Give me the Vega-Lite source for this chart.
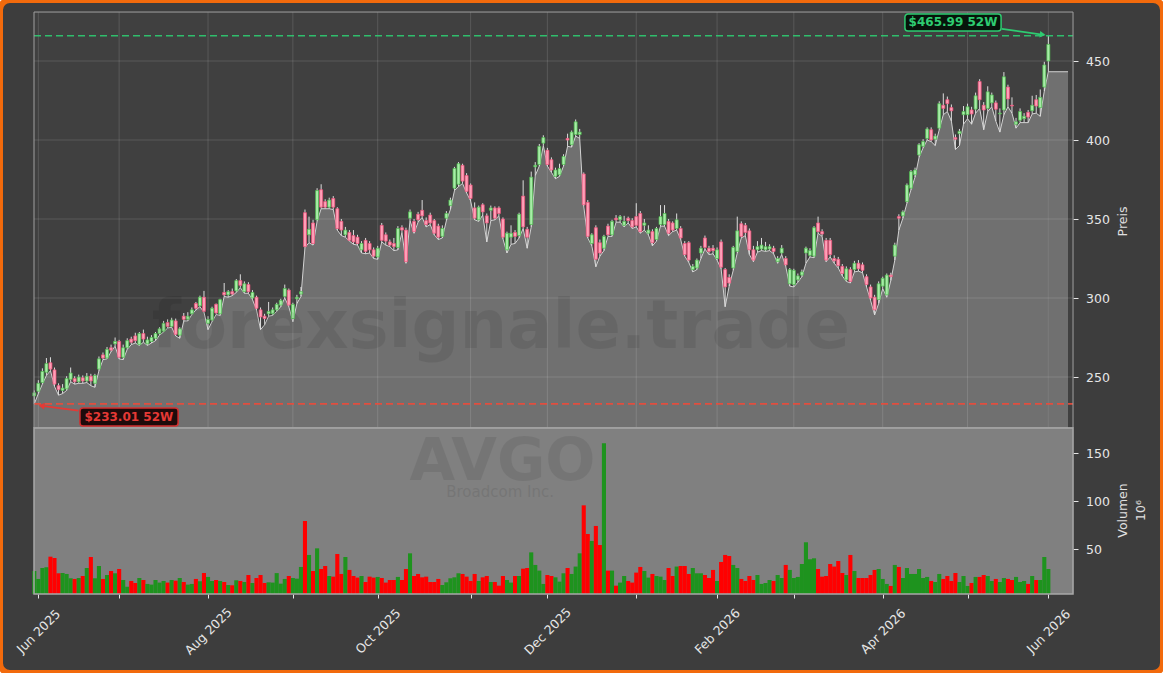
{
"$schema": "https://vega.github.io/schema/vega-lite/v6.json",
"width": 1163, "height": 673, "autosize": "none", "padding": 0,
"background": "#ffffff",
"config": {"font": "DejaVu Sans", "view": {"fill": "#3d3d3d", "stroke": "#f26a0c", "strokeWidth": 6, "cornerRadius": 10}},
"data": {"values": [
{"o":238.0,"h":241.5,"l":233.01,"c":240.0,"v":27.1},
{"o":241.0,"h":248.0,"l":239.5,"c":246.0,"v":18.8},
{"o":246.5,"h":255.5,"l":245.5,"c":253.5,"v":30.2},
{"o":253.0,"h":262.0,"l":251.0,"c":258.5,"v":31.0},
{"o":259.0,"h":262.5,"l":254.0,"c":255.0,"v":42.0},
{"o":254.5,"h":256.0,"l":244.0,"c":245.5,"v":40.6},
{"o":244.5,"h":246.0,"l":238.5,"c":242.0,"v":24.7},
{"o":241.5,"h":245.5,"l":239.5,"c":243.0,"v":25.0},
{"o":242.5,"h":250.5,"l":241.5,"c":249.0,"v":24.0},
{"o":248.5,"h":256.0,"l":247.0,"c":252.5,"v":19.5},
{"o":249.0,"h":250.5,"l":245.5,"c":247.0,"v":18.8},
{"o":247.0,"h":251.5,"l":246.0,"c":250.0,"v":19.8},
{"o":249.5,"h":251.0,"l":246.0,"c":247.5,"v":21.9},
{"o":247.5,"h":252.5,"l":246.5,"c":250.5,"v":30.2},
{"o":250.5,"h":252.0,"l":244.5,"c":247.5,"v":41.7},
{"o":246.0,"h":252.0,"l":243.5,"c":251.0,"v":19.5},
{"o":255.0,"h":263.0,"l":254.0,"c":261.5,"v":32.3},
{"o":264.0,"h":265.5,"l":261.0,"c":262.0,"v":18.8},
{"o":262.0,"h":269.0,"l":261.5,"c":267.5,"v":22.9},
{"o":268.5,"h":270.5,"l":266.0,"c":267.0,"v":27.1},
{"o":271.0,"h":275.0,"l":269.5,"c":272.5,"v":24.7},
{"o":272.5,"h":273.5,"l":261.5,"c":262.5,"v":29.2},
{"o":262.5,"h":270.5,"l":261.0,"c":268.5,"v":17.7},
{"o":268.5,"h":274.5,"l":267.5,"c":273.0,"v":10.8},
{"o":274.0,"h":275.5,"l":270.5,"c":272.0,"v":16.7},
{"o":276.0,"h":278.0,"l":271.5,"c":273.0,"v":14.6},
{"o":270.5,"h":278.5,"l":270.0,"c":277.5,"v":19.8},
{"o":277.5,"h":280.0,"l":272.0,"c":274.0,"v":17.7},
{"o":271.0,"h":275.5,"l":270.0,"c":273.5,"v":13.6},
{"o":272.5,"h":276.5,"l":271.5,"c":275.0,"v":12.9},
{"o":274.5,"h":278.5,"l":273.0,"c":277.5,"v":17.7},
{"o":277.5,"h":281.5,"l":276.5,"c":280.5,"v":15.0},
{"o":279.0,"h":285.5,"l":278.5,"c":284.0,"v":16.7},
{"o":284.5,"h":286.5,"l":281.0,"c":282.0,"v":15.0},
{"o":282.0,"h":287.5,"l":281.5,"c":286.0,"v":17.7},
{"o":285.5,"h":287.0,"l":276.0,"c":277.0,"v":17.0},
{"o":276.5,"h":281.5,"l":274.5,"c":280.5,"v":19.8},
{"o":288.5,"h":290.5,"l":285.5,"c":286.5,"v":15.6},
{"o":286.5,"h":291.0,"l":285.5,"c":288.5,"v":12.9},
{"o":290.0,"h":294.0,"l":289.5,"c":292.5,"v":13.6},
{"o":296.5,"h":297.5,"l":292.5,"c":293.5,"v":18.8},
{"o":295.0,"h":301.5,"l":294.5,"c":300.5,"v":16.4},
{"o":300.5,"h":304.5,"l":291.0,"c":291.5,"v":25.0},
{"o":284.0,"h":288.5,"l":280.0,"c":286.5,"v":20.9},
{"o":286.0,"h":294.5,"l":285.0,"c":293.5,"v":16.7},
{"o":296.0,"h":296.5,"l":289.5,"c":290.5,"v":17.7},
{"o":290.0,"h":299.5,"l":289.0,"c":299.0,"v":16.7},
{"o":303.5,"h":309.5,"l":301.0,"c":302.0,"v":15.6},
{"o":302.0,"h":305.0,"l":300.5,"c":304.0,"v":12.5},
{"o":304.0,"h":306.0,"l":301.5,"c":302.5,"v":12.2},
{"o":304.5,"h":312.0,"l":303.5,"c":311.0,"v":17.4},
{"o":311.0,"h":315.0,"l":306.5,"c":308.0,"v":16.7},
{"o":304.0,"h":310.5,"l":303.0,"c":309.0,"v":15.6},
{"o":308.5,"h":310.0,"l":303.0,"c":304.0,"v":22.9},
{"o":300.0,"h":305.0,"l":299.0,"c":303.5,"v":14.6},
{"o":300.5,"h":301.5,"l":292.5,"c":293.5,"v":19.8},
{"o":292.5,"h":294.0,"l":280.0,"c":288.0,"v":22.9},
{"o":288.5,"h":290.0,"l":283.0,"c":287.0,"v":14.6},
{"o":290.0,"h":297.5,"l":288.5,"c":291.5,"v":15.3},
{"o":290.0,"h":294.0,"l":289.0,"c":292.5,"v":15.0},
{"o":292.5,"h":297.0,"l":291.5,"c":296.0,"v":24.9},
{"o":295.5,"h":299.5,"l":294.5,"c":298.5,"v":13.9},
{"o":301.0,"h":308.5,"l":300.0,"c":306.0,"v":18.8},
{"o":305.0,"h":306.0,"l":294.5,"c":295.5,"v":21.9},
{"o":287.0,"h":297.0,"l":285.0,"c":296.0,"v":19.8},
{"o":299.5,"h":302.0,"l":296.5,"c":300.5,"v":19.1},
{"o":302.5,"h":307.0,"l":301.0,"c":304.0,"v":31.3},
{"o":354.0,"h":356.0,"l":332.0,"c":332.5,"v":79.2},
{"o":340.0,"h":351.5,"l":335.0,"c":343.5,"v":43.8},
{"o":347.5,"h":349.5,"l":333.5,"c":334.5,"v":27.1},
{"o":349.5,"h":369.5,"l":348.5,"c":368.0,"v":50.7},
{"o":368.5,"h":372.0,"l":356.5,"c":357.5,"v":29.2},
{"o":361.0,"h":362.5,"l":356.5,"c":357.5,"v":32.3},
{"o":357.5,"h":363.5,"l":356.5,"c":362.0,"v":21.9},
{"o":363.0,"h":364.5,"l":356.0,"c":357.5,"v":21.2},
{"o":356.5,"h":357.5,"l":343.0,"c":344.0,"v":44.8},
{"o":348.5,"h":350.0,"l":339.5,"c":343.0,"v":24.0},
{"o":340.0,"h":345.0,"l":338.5,"c":343.0,"v":41.7},
{"o":341.5,"h":343.0,"l":336.0,"c":336.5,"v":28.2},
{"o":339.5,"h":343.0,"l":334.0,"c":335.5,"v":21.9},
{"o":338.5,"h":340.0,"l":333.5,"c":334.5,"v":20.2},
{"o":330.5,"h":336.0,"l":328.5,"c":334.5,"v":21.9},
{"o":336.5,"h":338.0,"l":328.0,"c":329.5,"v":15.6},
{"o":334.5,"h":336.0,"l":328.5,"c":330.5,"v":21.2},
{"o":330.5,"h":332.0,"l":325.0,"c":326.5,"v":20.2},
{"o":326.0,"h":333.0,"l":324.5,"c":331.5,"v":20.9},
{"o":346.0,"h":347.5,"l":335.5,"c":336.5,"v":19.8},
{"o":340.0,"h":341.5,"l":333.5,"c":336.0,"v":15.0},
{"o":335.5,"h":337.0,"l":332.5,"c":333.5,"v":17.7},
{"o":334.5,"h":338.0,"l":330.0,"c":332.5,"v":17.7},
{"o":332.0,"h":345.5,"l":330.5,"c":344.0,"v":20.9},
{"o":344.5,"h":346.0,"l":341.5,"c":343.0,"v":17.7},
{"o":343.0,"h":344.5,"l":322.0,"c":323.0,"v":29.2},
{"o":350.5,"h":356.0,"l":349.0,"c":354.5,"v":45.5},
{"o":348.5,"h":350.0,"l":341.0,"c":342.0,"v":21.9},
{"o":353.0,"h":354.5,"l":348.0,"c":349.5,"v":24.0},
{"o":355.5,"h":362.0,"l":351.0,"c":352.0,"v":20.5},
{"o":349.0,"h":351.0,"l":345.0,"c":346.5,"v":21.2},
{"o":352.5,"h":354.0,"l":346.5,"c":347.5,"v":15.6},
{"o":349.0,"h":350.0,"l":340.0,"c":341.0,"v":15.6},
{"o":345.5,"h":347.0,"l":337.0,"c":338.5,"v":18.8},
{"o":339.0,"h":346.0,"l":338.0,"c":344.0,"v":12.5},
{"o":350.5,"h":355.0,"l":349.0,"c":353.5,"v":15.3},
{"o":358.5,"h":363.5,"l":356.0,"c":362.0,"v":19.5},
{"o":369.5,"h":383.0,"l":368.0,"c":382.0,"v":20.5},
{"o":372.0,"h":386.0,"l":370.5,"c":385.0,"v":24.7},
{"o":384.0,"h":385.0,"l":372.5,"c":374.0,"v":24.0},
{"o":377.5,"h":379.0,"l":366.5,"c":367.5,"v":21.2},
{"o":371.5,"h":372.5,"l":361.5,"c":363.0,"v":16.7},
{"o":357.0,"h":360.5,"l":349.5,"c":350.5,"v":24.0},
{"o":349.5,"h":358.5,"l":348.5,"c":357.5,"v":16.7},
{"o":359.0,"h":360.0,"l":352.5,"c":354.5,"v":20.5},
{"o":352.0,"h":353.5,"l":335.5,"c":347.5,"v":21.9},
{"o":355.5,"h":358.5,"l":349.0,"c":357.0,"v":15.6},
{"o":357.0,"h":358.0,"l":349.5,"c":350.5,"v":15.6},
{"o":357.0,"h":358.0,"l":352.0,"c":353.5,"v":11.8},
{"o":350.0,"h":351.0,"l":337.5,"c":338.5,"v":21.9},
{"o":330.5,"h":342.0,"l":328.5,"c":341.0,"v":17.7},
{"o":338.5,"h":346.0,"l":334.0,"c":341.0,"v":15.0},
{"o":341.5,"h":343.0,"l":334.5,"c":339.0,"v":21.9},
{"o":339.5,"h":354.0,"l":338.0,"c":353.0,"v":21.9},
{"o":364.5,"h":374.5,"l":344.0,"c":345.0,"v":29.5},
{"o":343.5,"h":345.0,"l":331.5,"c":338.5,"v":30.2},
{"o":346.5,"h":380.0,"l":345.0,"c":376.5,"v":46.5},
{"o":383.0,"h":386.0,"l":377.5,"c":384.0,"v":33.4},
{"o":384.5,"h":397.5,"l":383.5,"c":396.0,"v":27.5},
{"o":398.0,"h":403.0,"l":396.5,"c":401.5,"v":13.6},
{"o":393.5,"h":395.0,"l":383.5,"c":384.5,"v":22.9},
{"o":387.5,"h":389.0,"l":379.5,"c":381.0,"v":21.9},
{"o":377.0,"h":382.5,"l":375.5,"c":381.0,"v":20.5},
{"o":378.0,"h":385.0,"l":377.0,"c":382.0,"v":16.0},
{"o":384.5,"h":391.0,"l":383.5,"c":389.5,"v":24.7},
{"o":401.0,"h":404.0,"l":396.0,"c":400.0,"v":30.2},
{"o":397.0,"h":406.0,"l":395.5,"c":405.0,"v":24.0},
{"o":403.5,"h":413.0,"l":402.5,"c":411.5,"v":31.7},
{"o":403.5,"h":407.0,"l":401.0,"c":405.0,"v":45.5},
{"o":378.5,"h":379.5,"l":358.0,"c":359.0,"v":95.5},
{"o":360.5,"h":362.0,"l":338.0,"c":339.0,"v":65.6},
{"o":334.5,"h":341.0,"l":333.0,"c":340.0,"v":58.4},
{"o":344.5,"h":346.0,"l":319.8,"c":324.5,"v":74.0},
{"o":335.0,"h":337.0,"l":326.5,"c":328.5,"v":54.2},
{"o":331.5,"h":340.0,"l":330.0,"c":339.0,"v":160.1},
{"o":345.5,"h":347.0,"l":339.0,"c":340.0,"v":27.5},
{"o":340.0,"h":349.5,"l":339.0,"c":348.5,"v":27.5},
{"o":350.5,"h":352.5,"l":348.0,"c":349.5,"v":11.8},
{"o":349.5,"h":352.5,"l":348.0,"c":351.5,"v":15.0},
{"o":346.0,"h":352.0,"l":345.0,"c":348.5,"v":21.9},
{"o":350.5,"h":351.5,"l":347.5,"c":349.0,"v":16.7},
{"o":349.0,"h":350.5,"l":344.0,"c":345.0,"v":15.0},
{"o":351.5,"h":360.0,"l":345.0,"c":346.0,"v":25.4},
{"o":353.5,"h":355.0,"l":341.0,"c":342.0,"v":31.3},
{"o":346.0,"h":350.0,"l":343.0,"c":347.5,"v":27.1},
{"o":341.0,"h":346.0,"l":340.0,"c":343.0,"v":20.2},
{"o":342.0,"h":343.5,"l":333.0,"c":335.0,"v":24.0},
{"o":337.0,"h":345.0,"l":336.0,"c":344.0,"v":21.9},
{"o":346.5,"h":358.8,"l":345.5,"c":351.5,"v":21.2},
{"o":346.5,"h":358.8,"l":345.5,"c":353.5,"v":17.7},
{"o":348.5,"h":350.0,"l":339.5,"c":341.0,"v":30.2},
{"o":347.5,"h":348.5,"l":342.0,"c":343.0,"v":21.9},
{"o":344.0,"h":353.5,"l":343.0,"c":349.5,"v":31.7},
{"o":344.0,"h":345.5,"l":337.0,"c":338.0,"v":32.3},
{"o":334.5,"h":336.0,"l":326.5,"c":327.5,"v":32.3},
{"o":335.0,"h":336.0,"l":322.5,"c":324.0,"v":24.0},
{"o":318.0,"h":321.5,"l":316.5,"c":320.0,"v":30.2},
{"o":319.0,"h":325.0,"l":318.0,"c":324.0,"v":24.7},
{"o":328.5,"h":333.0,"l":325.0,"c":331.5,"v":24.7},
{"o":338.0,"h":339.5,"l":331.0,"c":332.0,"v":22.9},
{"o":331.5,"h":333.0,"l":327.5,"c":329.5,"v":19.8},
{"o":331.5,"h":333.5,"l":328.0,"c":330.0,"v":28.2},
{"o":325.0,"h":332.0,"l":324.0,"c":330.5,"v":16.7},
{"o":335.5,"h":337.0,"l":318.5,"c":319.5,"v":36.5},
{"o":318.0,"h":319.0,"l":294.5,"c":307.0,"v":43.8},
{"o":313.0,"h":315.0,"l":307.5,"c":309.5,"v":42.7},
{"o":319.0,"h":333.0,"l":317.5,"c":332.0,"v":33.4},
{"o":329.5,"h":351.5,"l":328.5,"c":342.5,"v":30.2},
{"o":347.0,"h":348.5,"l":338.0,"c":339.0,"v":18.8},
{"o":346.0,"h":347.5,"l":339.5,"c":341.5,"v":16.7},
{"o":342.5,"h":344.0,"l":327.5,"c":330.5,"v":21.9},
{"o":330.5,"h":333.0,"l":323.0,"c":324.0,"v":17.7},
{"o":330.5,"h":336.0,"l":329.0,"c":332.5,"v":22.9},
{"o":331.0,"h":338.0,"l":330.0,"c":333.5,"v":13.6},
{"o":330.5,"h":335.5,"l":329.5,"c":332.5,"v":14.6},
{"o":331.0,"h":334.0,"l":330.0,"c":332.5,"v":17.7},
{"o":331.5,"h":333.0,"l":328.0,"c":329.5,"v":16.7},
{"o":323.0,"h":326.5,"l":322.0,"c":325.0,"v":22.9},
{"o":328.5,"h":333.5,"l":327.5,"c":331.5,"v":19.8},
{"o":325.0,"h":326.5,"l":320.0,"c":321.0,"v":33.4},
{"o":309.0,"h":319.0,"l":307.5,"c":318.0,"v":28.2},
{"o":308.5,"h":318.5,"l":307.0,"c":317.5,"v":19.8},
{"o":311.5,"h":315.5,"l":310.0,"c":314.0,"v":20.9},
{"o":314.5,"h":318.0,"l":313.5,"c":316.5,"v":34.4},
{"o":328.5,"h":332.5,"l":322.0,"c":331.5,"v":57.0},
{"o":327.0,"h":331.5,"l":326.0,"c":330.0,"v":39.3},
{"o":326.5,"h":345.5,"l":325.5,"c":344.5,"v":40.3},
{"o":347.5,"h":351.5,"l":341.0,"c":342.0,"v":29.2},
{"o":342.0,"h":343.5,"l":339.0,"c":340.5,"v":21.2},
{"o":336.5,"h":338.0,"l":323.0,"c":324.0,"v":21.9},
{"o":336.5,"h":338.0,"l":326.0,"c":327.5,"v":34.4},
{"o":325.0,"h":327.0,"l":322.0,"c":323.5,"v":31.7},
{"o":324.5,"h":326.0,"l":319.0,"c":320.5,"v":37.5},
{"o":320.0,"h":321.5,"l":314.0,"c":315.5,"v":25.0},
{"o":311.5,"h":320.0,"l":310.5,"c":318.5,"v":22.9},
{"o":318.0,"h":319.5,"l":309.5,"c":310.5,"v":43.8},
{"o":318.0,"h":323.5,"l":316.5,"c":322.0,"v":27.1},
{"o":322.0,"h":324.0,"l":317.0,"c":318.5,"v":19.8},
{"o":321.0,"h":322.5,"l":316.0,"c":317.5,"v":19.8},
{"o":313.5,"h":315.0,"l":307.0,"c":308.5,"v":19.8},
{"o":307.0,"h":308.5,"l":298.5,"c":300.0,"v":22.9},
{"o":300.5,"h":302.0,"l":289.3,"c":292.5,"v":28.2},
{"o":299.0,"h":310.5,"l":296.5,"c":309.0,"v":29.2},
{"o":307.5,"h":313.5,"l":306.0,"c":312.5,"v":18.8},
{"o":302.0,"h":315.5,"l":300.5,"c":314.5,"v":13.6},
{"o":314.5,"h":316.0,"l":311.0,"c":313.5,"v":11.5},
{"o":326.5,"h":335.0,"l":324.0,"c":333.5,"v":33.4},
{"o":351.5,"h":353.0,"l":343.0,"c":350.5,"v":31.3},
{"o":352.0,"h":355.5,"l":350.5,"c":354.5,"v":19.8},
{"o":361.0,"h":372.5,"l":360.0,"c":371.5,"v":30.2},
{"o":369.5,"h":381.0,"l":368.5,"c":380.0,"v":24.0},
{"o":378.0,"h":382.5,"l":376.5,"c":381.0,"v":24.0},
{"o":390.5,"h":398.0,"l":389.0,"c":397.0,"v":29.2},
{"o":396.0,"h":400.5,"l":395.0,"c":399.0,"v":19.8},
{"o":401.0,"h":408.0,"l":400.0,"c":407.0,"v":20.9},
{"o":406.5,"h":408.0,"l":399.0,"c":400.0,"v":16.7},
{"o":400.5,"h":404.0,"l":396.5,"c":402.5,"v":15.6},
{"o":407.5,"h":424.5,"l":406.5,"c":423.0,"v":24.0},
{"o":422.0,"h":429.5,"l":416.0,"c":420.0,"v":18.8},
{"o":425.5,"h":427.5,"l":418.0,"c":423.0,"v":21.9},
{"o":420.5,"h":422.5,"l":412.0,"c":418.5,"v":16.7},
{"o":401.5,"h":403.5,"l":394.0,"c":400.5,"v":25.0},
{"o":404.0,"h":407.0,"l":396.5,"c":405.5,"v":15.6},
{"o":416.0,"h":421.5,"l":410.0,"c":418.0,"v":21.9},
{"o":416.0,"h":423.0,"l":413.5,"c":421.0,"v":11.5},
{"o":419.0,"h":421.0,"l":410.0,"c":416.5,"v":14.6},
{"o":419.5,"h":430.0,"l":417.0,"c":428.0,"v":20.9},
{"o":437.0,"h":438.5,"l":420.0,"c":425.5,"v":20.9},
{"o":422.0,"h":424.0,"l":406.5,"c":419.0,"v":22.9},
{"o":420.0,"h":434.0,"l":418.0,"c":430.5,"v":21.9},
{"o":423.5,"h":430.0,"l":421.0,"c":428.5,"v":16.7},
{"o":423.5,"h":425.0,"l":412.0,"c":419.5,"v":18.8},
{"o":416.5,"h":420.0,"l":405.0,"c":417.0,"v":15.6},
{"o":419.0,"h":443.0,"l":416.0,"c":440.0,"v":19.8},
{"o":433.5,"h":435.0,"l":421.0,"c":426.0,"v":18.8},
{"o":422.0,"h":427.0,"l":417.0,"c":421.5,"v":17.7},
{"o":410.0,"h":414.0,"l":407.5,"c":411.5,"v":20.9},
{"o":412.5,"h":420.0,"l":411.0,"c":418.0,"v":15.6},
{"o":413.5,"h":417.0,"l":411.0,"c":415.0,"v":16.7},
{"o":417.5,"h":419.0,"l":411.0,"c":414.5,"v":13.6},
{"o":418.5,"h":428.0,"l":416.5,"c":422.0,"v":21.9},
{"o":425.5,"h":428.5,"l":417.0,"c":421.5,"v":17.7},
{"o":420.5,"h":432.0,"l":415.0,"c":427.0,"v":17.7},
{"o":433.5,"h":449.5,"l":431.0,"c":447.5,"v":41.7},
{"o":450.0,"h":465.99,"l":443.2,"c":460.5,"v":29.2}
]},
"transform": [{"window": [{"op": "row_number", "as": "i"}]}],
"layer": [
{"layer": [
 {"data": {"values": [{}]},
  "mark": {"type": "rect", "fill": "#404040"},
  "encoding": {
   "x": {"datum": 0.926, "type": "quantitative", "scale": {"domain": [-7.49, 280.38], "nice": false, "zero": false, "padding": 0},
     "axis": {"orient": "bottom", "offset": -79, "title": null, "values": [2,22,44,65,86,109,128,150,170,189,211,232,252],
       "labelExpr": "datum.value == 2 ? 'Jun 2025' : datum.value == 44 ? 'Aug 2025' : datum.value == 86 ? 'Oct 2025' : datum.value == 128 ? 'Dec 2025' : datum.value == 170 ? 'Feb 2026' : datum.value == 211 ? 'Apr 2026' : datum.value == 252 ? 'Jun 2026' : ''",
       "grid": false, "domain": false, "tickSize": 4, "tickColor": "#e6e6e6", "labelAngle": -45, "labelAlign": "center", "labelBaseline": "middle", "labelPadding": 33, "labelColor": "#e6e6e6", "labelFontSize": 12.5, "labelOverlap": false, "labelFlush": false, "labelBound": false}},
   "x2": {"datum": 258.11},
   "y": {"datum": 481.0, "type": "quantitative", "scale": {"domain": [62.66, 488.61], "nice": false, "zero": false},
     "axis": {"orient": "right", "offset": -90, "values": [250,300,350,400,450], "grid": false, "domain": false, "tickSize": 5, "tickColor": "#e6e6e6", "labelColor": "#e6e6e6", "labelFontSize": 12.5, "labelPadding": 7.5, "labelFlush": false, "labelOverlap": false,
       "title": "Preis", "titleColor": "#e0e0e0", "titleFontSize": 12.5, "titleFontWeight": "normal", "titleAngle": 270, "titleX": 49, "titleY": 221, "titleAlign": "center", "titleBaseline": "middle"}},
   "y2": {"datum": 217.72}}},
 {"mark": {"type": "area", "fill": "#858585", "line": {"color": "#d2d2d2", "strokeWidth": 1}},
  "encoding": {
   "x": {"field": "i", "type": "quantitative", "scale": {"domain": [-7.49, 280.38], "nice": false, "zero": false, "padding": 0}},
   "y": {"field": "l", "type": "quantitative", "scale": {"domain": [62.66, 488.61], "nice": false, "zero": false}},
   "y2": {"datum": 217.72}}},
 {"data": {"values": [{"i": 252, "l": 443.2}, {"i": 256.87, "l": 443.2}]},
  "mark": {"type": "area", "fill": "#858585", "line": {"color": "#d2d2d2", "strokeWidth": 1}},
  "encoding": {
   "x": {"field": "i", "type": "quantitative"},
   "y": {"field": "l", "type": "quantitative"},
   "y2": {"datum": 217.72}}},
 {"data": {"values": [{"p": 250}, {"p": 300}, {"p": 350}, {"p": 400}, {"p": 450}]},
  "mark": {"type": "rule", "color": "#ffffff", "opacity": 0.13, "strokeWidth": 1},
  "encoding": {"y": {"field": "p", "type": "quantitative"}, "x": {"datum": 0.926}, "x2": {"datum": 258.11}}},
 {"data": {"values": [{"m": 2}, {"m": 22}, {"m": 44}, {"m": 65}, {"m": 86}, {"m": 109}, {"m": 128}, {"m": 150}, {"m": 170}, {"m": 189}, {"m": 211}, {"m": 232}, {"m": 252}]},
  "mark": {"type": "rule", "color": "#ffffff", "opacity": 0.13, "strokeWidth": 1},
  "encoding": {"x": {"field": "m", "type": "quantitative"}, "y": {"datum": 217.72}, "y2": {"datum": 481.0}}},
 {"mark": {"type": "rule", "color": "#dcdcdc", "strokeWidth": 1},
  "encoding": {"x": {"field": "i", "type": "quantitative"}, "y": {"field": "l", "type": "quantitative"}, "y2": {"field": "h"}}},
 {"mark": {"type": "bar", "size": 3, "strokeWidth": 0.7},
  "encoding": {"x": {"field": "i", "type": "quantitative"}, "y": {"field": "o", "type": "quantitative"}, "y2": {"field": "c"},
   "fill": {"condition": {"test": "datum.c >= datum.o", "value": "#a8eca8"}, "value": "#ffa0b8"},
   "stroke": {"condition": {"test": "datum.c >= datum.o", "value": "#4cbb4c"}, "value": "#f0507a"}}},
 {"data": {"values": [{}]},
  "mark": {"type": "rule", "color": "#2ecc71", "opacity": 0.9, "strokeWidth": 1.7, "strokeDash": [7, 4]},
  "encoding": {"y": {"datum": 465.99}, "x": {"datum": 0.926}, "x2": {"datum": 258.11}}},
 {"data": {"values": [{}]},
  "mark": {"type": "rule", "color": "#e74c3c", "opacity": 0.95, "strokeWidth": 1.7, "strokeDash": [7, 4]},
  "encoding": {"y": {"datum": 233.01}, "x": {"datum": 0.926}, "x2": {"datum": 258.11}}},
 {"data": {"values": [{"t": "forexsignale.trade"}]},
  "mark": {"type": "text", "fontSize": 67, "fontWeight": "bold", "color": "#000000", "opacity": 0.08, "align": "center", "baseline": "alphabetic"},
  "encoding": {"x": {"datum": 116.5}, "y": {"datum": 268.4}, "text": {"field": "t"}}},
 {"data": {"values": [{}]},
  "mark": {"type": "rule", "color": "#2ecc71", "strokeWidth": 1.8},
  "encoding": {"x": {"datum": 240.5}, "y": {"datum": 470.3}, "x2": {"datum": 250.9}, "y2": {"datum": 466.6}}},
 {"data": {"values": [{}]},
  "mark": {"type": "point", "shape": "triangle-up", "filled": true, "color": "#2ecc71", "opacity": 1, "size": 45, "angle": 98},
  "encoding": {"x": {"datum": 250.6}, "y": {"datum": 466.7}}},
 {"data": {"values": [{}]},
  "mark": {"type": "rect", "fill": "#07140b", "stroke": "#2ecc71", "strokeWidth": 1.5, "cornerRadius": 3},
  "encoding": {"x": {"datum": 216.5}, "x2": {"datum": 240.3}, "y": {"datum": 479.7}, "y2": {"datum": 469.0}}},
 {"data": {"values": [{"label": "$465.99 52W"}]},
  "mark": {"type": "text", "color": "#2ecc71", "fontWeight": "bold", "fontSize": 12, "align": "center", "baseline": "middle"},
  "encoding": {"x": {"datum": 228.4}, "y": {"datum": 474.4}, "text": {"field": "label"}}},
 {"data": {"values": [{}]},
  "mark": {"type": "rule", "color": "#e53935", "strokeWidth": 1.8},
  "encoding": {"x": {"datum": 11.9}, "y": {"datum": 228.7}, "x2": {"datum": 2.5}, "y2": {"datum": 231.9}}},
 {"data": {"values": [{}]},
  "mark": {"type": "point", "shape": "triangle-up", "filled": true, "color": "#e53935", "opacity": 1, "size": 45, "angle": 277},
  "encoding": {"x": {"datum": 2.8}, "y": {"datum": 231.8}}},
 {"data": {"values": [{}]},
  "mark": {"type": "rect", "fill": "#1e0b0b", "stroke": "#d32f2f", "strokeWidth": 1.5, "cornerRadius": 3},
  "encoding": {"x": {"datum": 12.3}, "x2": {"datum": 36.6}, "y": {"datum": 230.4}, "y2": {"datum": 219.0}}},
 {"data": {"values": [{"label": "$233.01 52W"}]},
  "mark": {"type": "text", "color": "#e53935", "fontWeight": "bold", "fontSize": 12, "align": "center", "baseline": "middle"},
  "encoding": {"x": {"datum": 24.4}, "y": {"datum": 224.7}, "text": {"field": "label"}}},
 {"data": {"values": [{}]},
  "mark": {"type": "rect", "fill": null, "fillOpacity": 0, "stroke": "#a0a0a0", "strokeWidth": 1},
  "encoding": {"x": {"datum": 0.926}, "x2": {"datum": 258.11}, "y": {"datum": 481.0}, "y2": {"datum": 217.72}}}
]},
{"layer": [
 {"data": {"values": [{}]},
  "mark": {"type": "rect", "fill": "#808080"},
  "encoding": {
   "x": {"datum": 0.926, "type": "quantitative"},
   "x2": {"datum": 258.11},
   "y": {"datum": 176.0, "type": "quantitative", "scale": {"domain": [-79.17, 621.9], "nice": false, "zero": false},
     "axis": {"orient": "right", "offset": -90, "values": [50,100,150], "grid": false, "domain": false, "tickSize": 5, "tickColor": "#e6e6e6", "labelColor": "#e6e6e6", "labelFontSize": 12.5, "labelPadding": 7.5, "labelFlush": false, "labelOverlap": false,
       "title": ["Volumen", "10⁶"], "titleColor": "#e0e0e0", "titleFontSize": 12.5, "titleFontWeight": "normal", "titleAngle": 270, "titleX": 49, "titleY": 510, "titleAlign": "center", "titleBaseline": "middle", "titleLineHeight": 18}},
   "y2": {"datum": 3.125}}},
 {"mark": {"type": "bar", "size": 4.1},
  "encoding": {
   "x": {"field": "i", "type": "quantitative"},
   "y": {"field": "v", "type": "quantitative", "scale": {"domain": [-79.17, 621.9], "nice": false, "zero": false}},
   "y2": {"datum": 3.125},
   "color": {"condition": {"test": "datum.c >= datum.o", "value": "#1e931e"}, "value": "#ff0000"}}},
 {"data": {"values": [{"t": "AVGO"}]},
  "mark": {"type": "text", "fontSize": 59, "fontWeight": "bold", "color": "#000000", "opacity": 0.08, "align": "center", "baseline": "alphabetic"},
  "encoding": {"x": {"datum": 116.9}, "y": {"datum": 121.5}, "text": {"field": "t"}}},
 {"data": {"values": [{"t": "Broadcom Inc."}]},
  "mark": {"type": "text", "fontSize": 15, "color": "#000000", "opacity": 0.08, "align": "center", "baseline": "alphabetic"},
  "encoding": {"x": {"datum": 116.3}, "y": {"datum": 104.2}, "text": {"field": "t"}}},
 {"data": {"values": [{}]},
  "mark": {"type": "rect", "fill": null, "fillOpacity": 0, "stroke": "#a8a8a8", "strokeWidth": 1.5},
  "encoding": {"x": {"datum": 0.926}, "x2": {"datum": 258.11}, "y": {"datum": 176.0}, "y2": {"datum": 3.125}}}
]}
],
"resolve": {"scale": {"y": "independent"}}
}
